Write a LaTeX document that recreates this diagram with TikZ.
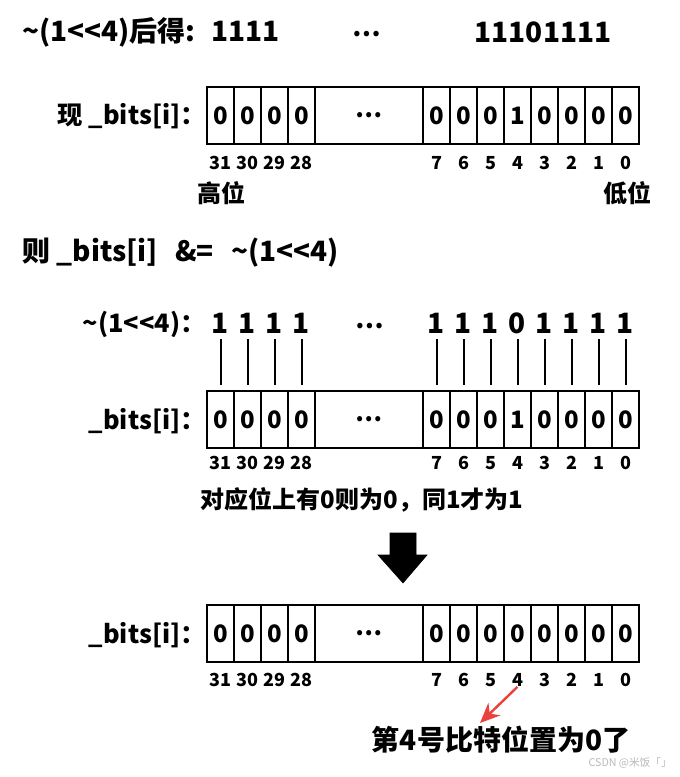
\documentclass[tikz,border=0pt]{standalone}
\usepackage{fontspec}
\setmainfont{Noto Sans CJK SC}
\usetikzlibrary{arrows.meta}
\definecolor{notered}{RGB}{235,64,60}
\newcommand{\shl}{<\kern0pt<}
\tikzset{
  bitcell/.style={draw, line width=1.4pt, minimum width=20.25pt, minimum height=42.75pt,
    inner sep=0pt, outer sep=0pt, font=\bfseries\fontsize{18}{18}\selectfont},
  gapcell/.style={bitcell, minimum width=81pt},
  idx/.style={inner sep=0pt, font=\bfseries\fontsize{13.5}{13.5}\selectfont},
  lbl/.style={inner sep=0pt, font=\bfseries\fontsize{19}{19}\selectfont},
  bigbit/.style={inner sep=0pt, font=\bfseries\fontsize{21}{21}\selectfont},
}
\begin{document}
\begin{tikzpicture}[x=0.75pt,y=0.75pt,yscale=-1,xscale=1]
\useasboundingbox (0,0) rectangle (680,777);

% Text Node
\node (head) [lbl, anchor=west, font=\bfseries\fontsize{21}{21}\selectfont] at (22,32) {\textasciitilde(1\shl4)后得:\hspace{12pt}1111};
% Text Node
\node (headdots) [lbl] at (367,34) {…};
% Text Node
\node (headbits) [lbl, font=\bfseries\fontsize{21}{21}\selectfont] at (543,32) {11101111};

%Register: bits before
\node (lbla) [lbl, anchor=east] at (206,116) {现 \_bits[i]：};
\foreach \k [count=\n from 0] in {31,30,29,28}
  { \node (a\k) [bitcell] at (220.5+27*\n,115.5) {0};
    \node (ia\k) [idx] at (220.5+27*\n,163) {\k}; }
\node (agap) [gapcell] at (369,115.5) {…};
\foreach \k/\b [count=\n from 0] in {7/0,6/0,5/0,4/1,3/0,2/0,1/0,0/0}
  { \node (a\k) [bitcell] at (436.5+27*\n,115.5) {\b};
    \node (ia\k) [idx] at (436.5+27*\n,163) {\k}; }
% Text Node
\node (high) [lbl, font=\bfseries\fontsize{18}{18}\selectfont] at (221,193) {高位};
% Text Node
\node (low) [lbl, font=\bfseries\fontsize{18}{18}\selectfont] at (627,193) {低位};

% Text Node
\node (rule) [lbl, anchor=west, font=\bfseries\fontsize{21}{21}\selectfont] at (22,253) {则 \_bits[i]\hspace{13pt}\&=\hspace{13pt}\textasciitilde(1\shl4)};

%Mask bits
\node (lblm) [lbl, anchor=east] at (206,324) {\textasciitilde(1\shl4)：};
\foreach \k [count=\n from 0] in {31,30,29,28}
  { \node (m\k) [bigbit] at (220.5+27*\n,323) {1}; }
\node (mdots) [lbl] at (370,326) {…};
\foreach \k/\b [count=\n from 0] in {7/1,6/1,5/1,4/0,3/1,2/1,1/1,0/1}
  { \node (m\k) [bigbit] at (436.5+27*\n,323) {\b}; }

%Register: bits and mask
\node (lblb) [lbl, anchor=east] at (206,421) {\_bits[i]：};
\foreach \k [count=\n from 0] in {31,30,29,28}
  { \node (b\k) [bitcell] at (220.5+27*\n,419.5) {0};
    \node (ib\k) [idx] at (220.5+27*\n,463) {\k}; }
\node (bgap) [gapcell] at (369,419.5) {…};
\foreach \k/\b [count=\n from 0] in {7/0,6/0,5/0,4/1,3/0,2/0,1/0,0/0}
  { \node (b\k) [bitcell] at (436.5+27*\n,419.5) {\b};
    \node (ib\k) [idx] at (436.5+27*\n,463) {\k}; }
\foreach \k in {31,30,29,28,7,6,5,4,3,2,1,0}
  { \draw [line width=1.5pt, shorten <=4pt, shorten >=4.5pt] (m\k) -- (b\k); }

% Text Node
\node (andnote) [lbl, font=\bfseries\fontsize{18}{18}\selectfont] at (362,500) {对应位上有0则为0，同1才为1};

%Shape: Down Arrow
\draw [fill=black] (390,533) -- (416,533) -- (416,555) -- (427,555) -- (403,583) -- (378,555) -- (390,555) -- cycle;

%Register: bits after
\node (lblc) [lbl, anchor=east] at (206,635) {\_bits[i]：};
\foreach \k [count=\n from 0] in {31,30,29,28}
  { \node (c\k) [bitcell] at (220.5+27*\n,633.5) {0};
    \node (ic\k) [idx] at (220.5+27*\n,680) {\k}; }
\node (cgap) [gapcell] at (369,633.5) {…};
\foreach \k/\b [count=\n from 0] in {7/0,6/0,5/0,4/0,3/0,2/0,1/0,0/0}
  { \node (c\k) [bitcell] at (436.5+27*\n,633.5) {\b};
    \node (ic\k) [idx] at (436.5+27*\n,680) {\k}; }

% Text Node
\node (result) [lbl, font=\bfseries\fontsize{21}{21}\selectfont] at (501,740) {第4号比特位置为0了};
\coordinate (tip) at (480,723);
\draw [notered, line width=1.8pt, -{Stealth[length=15pt,width=13pt]}] (ic4.south) -- (tip);

% Text Node
\node (mark) [inner sep=0pt, anchor=east, text=gray!55, font=\fontsize{8}{8}\selectfont] at (672,763) {CSDN @米饭「」};
\end{tikzpicture}
\end{document}
